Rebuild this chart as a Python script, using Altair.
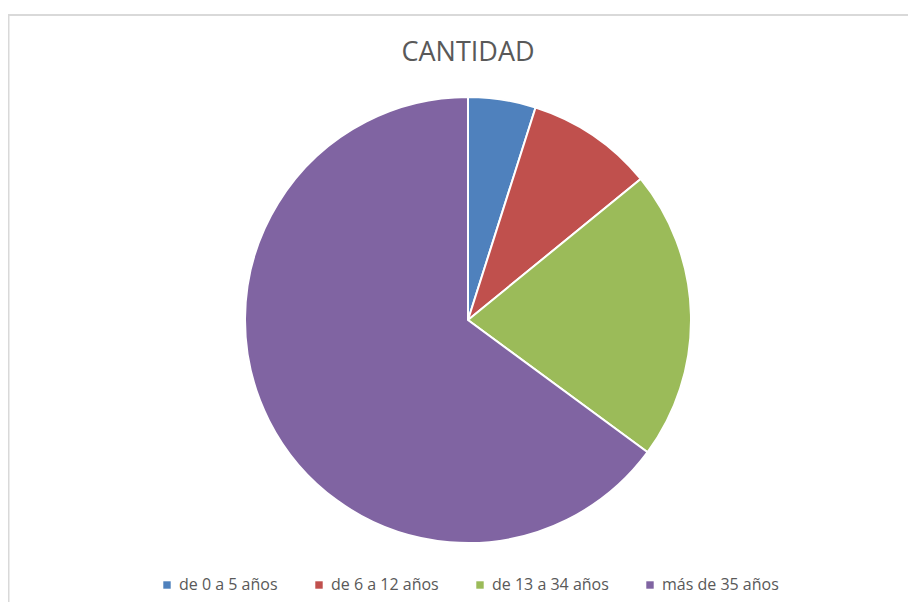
import altair as alt
import pandas as pd

categorias = ["de 0 a 5 años", "de 6 a 12 años", "de 13 a 34 años", "más de 35 años"]
cantidad = [4.9, 9.2, 21.0, 64.9]
colores = ["#4F81BD", "#C0504D", "#9BBB59", "#8064A2"]

df = pd.DataFrame({"categoria": categorias, "cantidad": cantidad, "orden": list(range(len(categorias)))})

W, H = 900, 594
CX, CY, R = 460, 312, 223

pie = alt.Chart(df).mark_arc(outerRadius=R, stroke="white", strokeWidth=2).encode(
    theta=alt.Theta("cantidad:Q", stack=True),
    order=alt.Order("orden:Q"),
    color=alt.Color(
        "categoria:N",
        sort=categorias,
        scale=alt.Scale(domain=categorias, range=colores),
        legend=alt.Legend(
            title=None,
            orient="none",
            direction="horizontal",
            legendX=151,
            legendY=569,
            symbolType="square",
            symbolSize=55,
            symbolStrokeWidth=0,
            labelFontSize=16,
            labelFont="Open Sans",
            labelColor="#595959",
            columnPadding=33,
            labelOffset=4,
        ),
    ),
    x=alt.value(CX),
    y=alt.value(CY),
)

titulo = alt.Chart(pd.DataFrame({"t": ["CANTIDAD"]})).mark_text(
    fontSize=27, font="Open Sans", color="#595959", baseline="middle", align="center"
).encode(text="t:N", x=alt.value(CX), y=alt.value(45))

borde_sup = alt.Chart(pd.DataFrame({"a": [0]})).mark_rule(color="#D9D9D9", strokeWidth=2).encode(
    x=alt.value(0), x2=alt.value(W + 8), y=alt.value(7)
)
borde_izq = alt.Chart(pd.DataFrame({"a": [0]})).mark_rule(color="#D9D9D9", strokeWidth=1.5).encode(
    x=alt.value(0.75), y=alt.value(7), y2=alt.value(H + 8)
)

chart = alt.layer(borde_sup, borde_izq, pie, titulo).properties(
    width=W, height=H, padding=0, autosize=alt.AutoSizeParams(type="none")
).configure_view(stroke=None)

chart.save("out.html", embed_options={"renderer": "svg", "actions": False})
